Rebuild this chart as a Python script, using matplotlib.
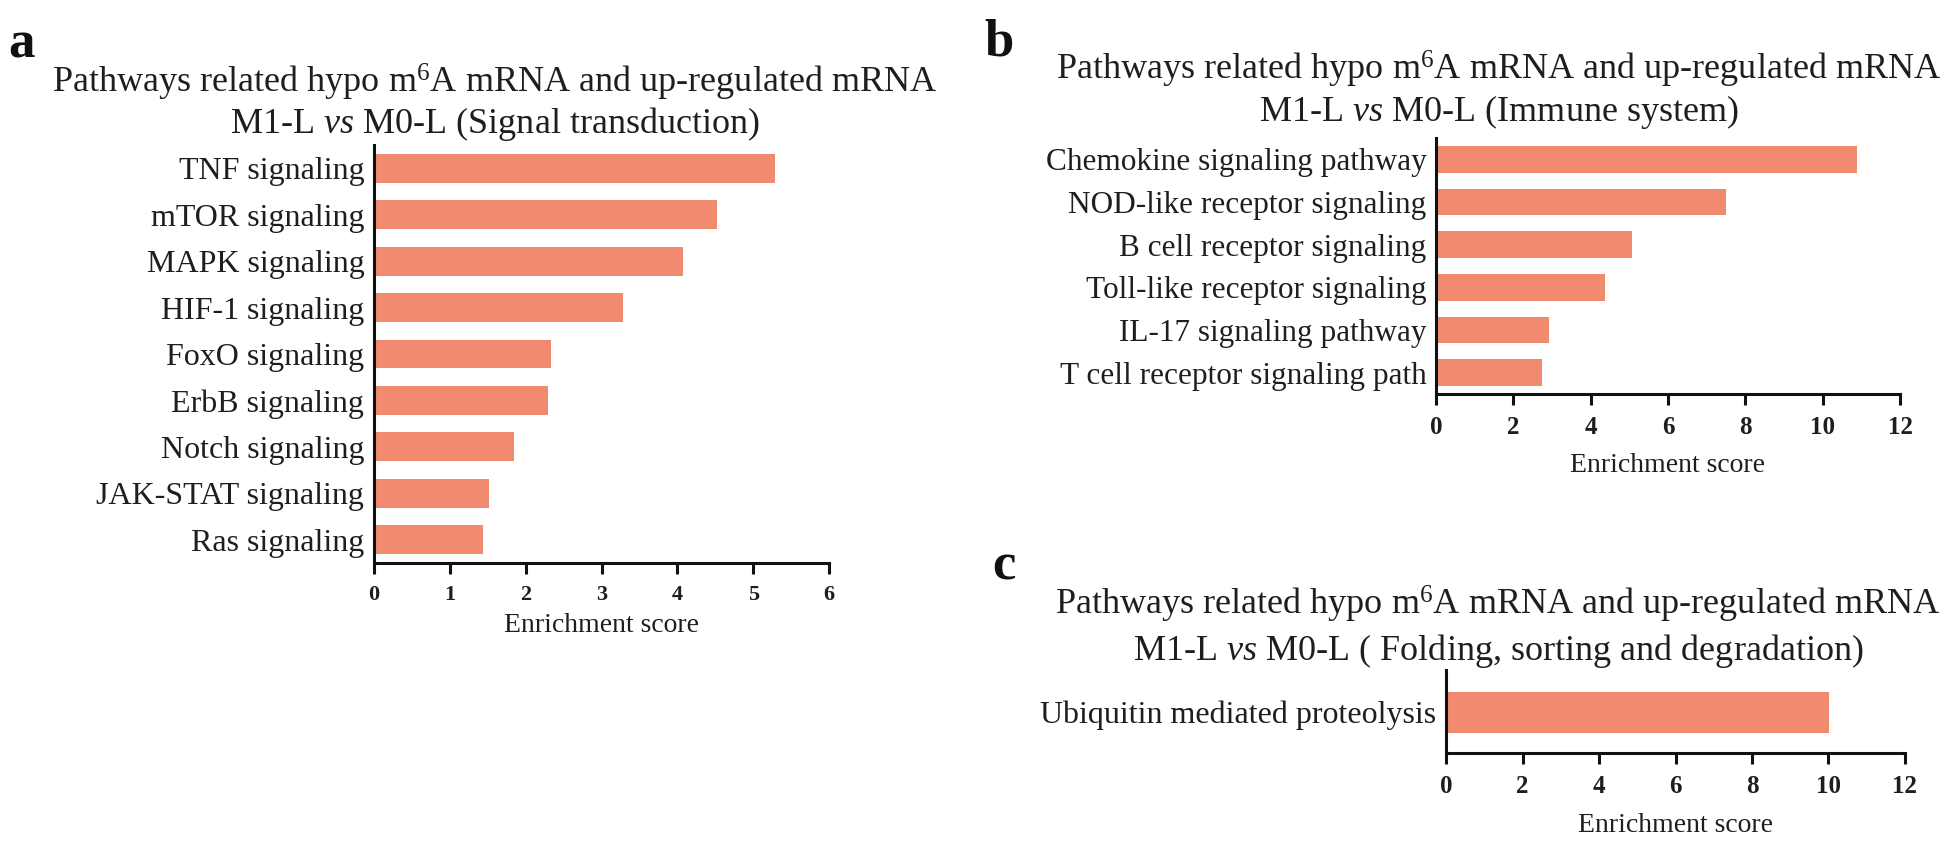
import matplotlib as mpl
import matplotlib.pyplot as plt

mpl.rc('font', family='Liberation Serif', size=16)
mpl.rc('mathtext', fontset='custom', rm='Liberation Serif',
       it='Liberation Serif:italic', bf='Liberation Serif:bold')
mpl.rc('figure', facecolor='w')

# panel a: signal transduction
sig_names = ['TNF signaling', 'mTOR signaling', 'MAPK signaling', 'HIF-1 signaling',
             'FoxO signaling', 'ErbB signaling', 'Notch signaling',
             'JAK-STAT signaling', 'Ras signaling']
sig_scores = [5.29, 4.52, 4.07, 3.28, 2.34, 2.29, 1.84, 1.51, 1.44]
sig_ticks = [0, 1, 2, 3, 4, 5, 6]

# panel b: immune system
imm_names = ['Chemokine signaling pathway', 'NOD-like receptor signaling',
             'B cell receptor signaling', 'Toll-like receptor signaling',
             'IL-17 signaling pathway', 'T cell receptor signaling path']
imm_scores = [10.89, 7.50, 5.07, 4.37, 2.92, 2.74]
imm_ticks = [0, 2, 4, 6, 8, 10, 12]

# panel c: folding, sorting and degradation
fold_names = ['Ubiquitin mediated proteolysis']
fold_scores = [10.01]
fold_ticks = [0, 2, 4, 6, 8, 10, 12]

title_top = r'Pathways related hypo m$^{6}$A mRNA and up-regulated mRNA'
sub_a = r'M1-L $\mathit{vs}$ M0-L (Signal transduction)'
sub_b = r'M1-L $\mathit{vs}$ M0-L (Immune system)'
sub_c = r'M1-L $\mathit{vs}$ M0-L ( Folding, sorting and degradation)'

BAR_COLOR = '#F08B70'
TEXT_COLOR = '#1e1e1e'

W, H = 1946, 844
fig = plt.figure(figsize=(W / 100, H / 100), dpi=100)


def px_rect(left, right, top, bottom):
    return [left / W, 1 - bottom / H, (right - left) / W, (bottom - top) / H]


def draw_panel(rect, names, scores, ticks, bar_h, ylim, label_y, tick_size,
               name_size=23):
    ax = fig.add_axes(px_rect(*rect))
    pos = list(range(len(names)))
    ax.barh(pos, scores, height=bar_h, color=BAR_COLOR, edgecolor='none')
    ax.set_yticks(pos)
    ax.set_yticklabels(names, fontsize=name_size, color=TEXT_COLOR)
    ax.set_ylim(*ylim)
    ax.set_xlim(ticks[0], ticks[-1])
    ax.set_xticks(ticks)
    ax.set_xticklabels([str(t) for t in ticks], fontsize=tick_size,
                       fontweight='bold', color=TEXT_COLOR)
    for side in ['top', 'right']:
        ax.spines[side].set_visible(False)
    for side in ['left', 'bottom']:
        ax.spines[side].set_linewidth(2.2)
        ax.spines[side].set_color('#111111')
    ax.tick_params(axis='y', length=0, pad=7)
    ax.tick_params(axis='x', length=8, width=2.2, pad=8, color='#111111')
    ax.set_xlabel('Enrichment score', fontsize=20, color=TEXT_COLOR)
    bottom_px = rect[3]
    height_px = rect[3] - rect[2]
    ax.xaxis.set_label_coords(0.5, (bottom_px - label_y) / height_px)
    ax.xaxis.label.set_verticalalignment('center')
    return ax


def titles(cx, base1, base2, line2, letter, letter_x, letter_base):
    fig.text(cx / W, 1 - base1 / H, title_top, fontsize=26, ha='center',
             va='baseline', color=TEXT_COLOR)
    fig.text(cx / W, 1 - base2 / H, line2, fontsize=26, ha='center',
             va='baseline', color=TEXT_COLOR)
    fig.text(letter_x / W, 1 - letter_base / H, letter, fontsize=38,
             fontweight='bold', ha='left', va='baseline', color='#111111')


draw_panel((374, 829, 145, 563), sig_names, sig_scores, sig_ticks,
           0.62, (8.5, -0.5), 626, 16)
draw_panel((1436, 1900, 138, 394), imm_names, imm_scores, imm_ticks,
           0.63, (5.5, -0.5), 465, 18, name_size=22.5)
draw_panel((1446, 1905, 670, 753), fold_names, fold_scores, fold_ticks,
           0.6, (0.6, -0.62), 825, 18)

titles(495, 93, 133, sub_a, 'a', 8, 57)
titles(1499, 80, 121, sub_b, 'b', 984, 56)
titles(1498, 615, 660, sub_c, 'c', 992, 579)

plt.savefig('out.png', format='png', dpi=100)
